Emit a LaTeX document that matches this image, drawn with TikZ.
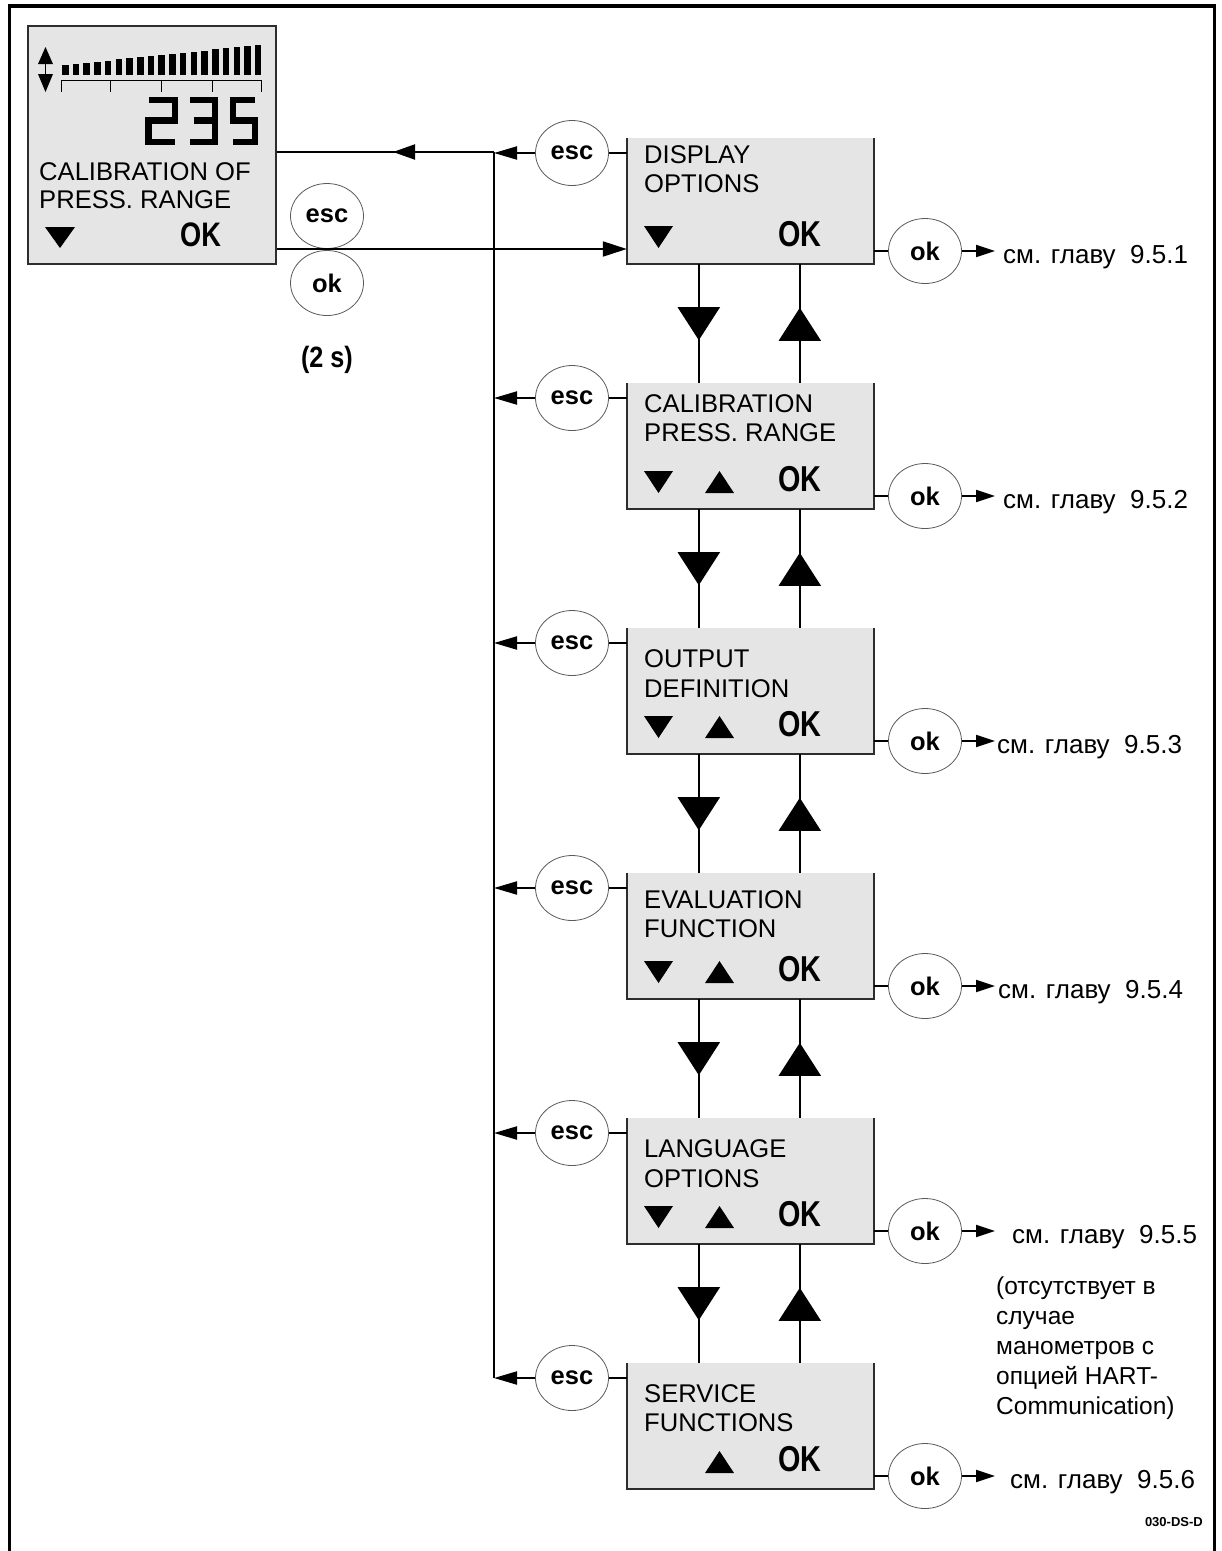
\documentclass[tikz,border=0pt]{standalone}
\usepackage{fontspec}
\setmainfont{Liberation Sans}
\usetikzlibrary{arrows.meta,shapes.geometric,decorations.markings,calc}
\definecolor{boxgray}{RGB}{229,229,229}
\definecolor{boxline}{RGB}{45,45,45}
\definecolor{keyline}{RGB}{90,90,90}
\newcommand\fKey{\fontsize{25.5}{30}\selectfont\bfseries}
\newcommand\fBox{\fontsize{25.6}{30}\selectfont}
\newcommand\fOK{\fontsize{36}{40}\selectfont\bfseries}
\newcommand\fRef{\fontsize{26}{31}\selectfont}
\newcommand\fNote{\fontsize{24.5}{30}\selectfont}
\begin{document}
\begin{tikzpicture}[x=1pt,y=-1pt,
  lcd/.style={rectangle, fill=boxgray, inner sep=0pt, minimum width=247pt, minimum height=126pt},
  keybtn/.style={ellipse, draw=keyline, line width=0.8pt, fill=white, minimum width=73pt, minimum height=65pt, inner sep=0pt, font=\fKey},
  wire/.style={line width=2pt},
  lcdborder/.style={draw=boxline, line width=2pt},
  escarrow/.style={wire, -{Triangle[length=23pt,width=13pt]}},
  okarrow/.style={wire, -{Triangle[length=19pt,width=12pt]}},
  inarrow/.style={wire, -{Triangle[length=24pt,width=15pt]}},
  updown/.style={wire, postaction={decorate}, decoration={markings, mark=at position #1 with {\arrow{Triangle[length=33pt,width=42pt]}}}},
  backarrow/.style={wire, postaction={decorate}, decoration={markings, mark=at position 101pt with {\arrow{Triangle[length=22pt,width=15pt]}}}},
  lbl/.style={anchor=base west, inner sep=0pt, font=\fBox},
  oklbl/.style={anchor=base west, inner sep=0pt, font=\fOK},
  seg/.style={line width=6.5pt, line join=miter, line cap=butt},
]
\useasboundingbox (0,0) rectangle (1222,1551);
% outer frame
\draw[line width=3.5pt, line join=miter] (9.5,1551) -- (9.5,6) -- (1214.5,6) -- (1214.5,1551);

% display
\node[rectangle, fill=boxgray, draw=boxline, line width=2pt, inner sep=0pt, minimum width=248pt, minimum height=238pt] (disp) at (152,145) {};
\foreach \i in {0,...,18} {
  \pgfmathsetmacro\bx{62+\i*10.72}
  \pgfmathsetmacro\bt{65-20*\i/18}
  \fill (\bx,75) rectangle (\bx+6.5,\bt);
}
\draw[line width=1pt] (61,80) -- (262,80);
\foreach \sx in {61,110,161,212,261} \draw[line width=1pt] (\sx,80) -- (\sx,92);
\fill (38,64) -- (53,64) -- (45.5,47) -- cycle;
\fill (38,74) -- (53,74) -- (45.5,92) -- cycle;
\draw[line width=1.5pt] (45.5,62) -- (45.5,76);
\draw[seg] (148.5,100) -- (175,100) -- (175,120.5) -- (148.5,120.5) -- (148.5,142) -- (175,142);
\draw[seg] (190,100) -- (215,100) -- (215,142) -- (190,142);
\draw[seg] (194,120.5) -- (215,120.5);
\draw[seg] (255,100) -- (233,100) -- (233,120.5) -- (255,120.5) -- (255,142) -- (233,142);
\node[lbl] (dl1) at (39,180) {CALIBRATION OF};
\node[lbl] (dl2) at (39,208) {PRESS. RANGE};
\fill (45,227) -- (75,227) -- (60,248) -- cycle;
\node[oklbl, font=\fontsize{34}{40}\selectfont\bfseries] (dok) at (180,246) {\scalebox{0.8}[1]{OK}};

\node[keybtn] (E0) at (327,216) {esc};
\node[keybtn] (O0) at (327,283) {ok};
\node[font=\fontsize{28}{32}\selectfont\bfseries] (twosec) at (327,360) {\scalebox{0.9}[1.05]{(2 s)}};

% menu boxes
\foreach \k/\la/\lb/\oa/\ob/\tX in {1/DISPLAY/OPTIONS/25/54/1003, 2/CALIBRATION/PRESS. RANGE/29/58/1003, 3/OUTPUT/DEFINITION/39/69/997, 4/EVALUATION/FUNCTION/35/64/998, 5/LANGUAGE/OPTIONS/39/69/1012, 6/SERVICE/FUNCTIONS/39/68/1010} {
  \pgfmathsetmacro\T{138+245*(\k-1)}
  \node[lcd] (m\k) at (750.5,\T+63) {};
  \draw[lcdborder] (m\k.north west) -- (m\k.south west) -- (m\k.south east) -- (m\k.north east);
  \node[lbl] (la\k) at (644,\T+\oa) {\la};
  \node[lbl] (lb\k) at (644,\T+\ob) {\lb};
  \ifnum\k<6 \fill (644,\T+88) -- (673,\T+88) -- (658.5,\T+110) -- cycle; \fi
  \ifnum\k>1 \fill (705,\T+110) -- (734,\T+110) -- (719.5,\T+88) -- cycle; \fi
  \node[oklbl] (ok\k) at (778,\T+108) {\scalebox{0.8}[1]{OK}};
  \node[keybtn] (e\k) at (572,\T+15) {esc};
  \node[keybtn] (o\k) at (925,\T+113) {ok};
  \coordinate (a\k) at (995,\T+113);
  \node[anchor=base west, inner sep=0pt, font=\fRef] (t\k) at (\tX,\T+125) {см. главу\ \ 9.5.\k};
}

% bus
\coordinate (busTop) at (494,152);
\coordinate (busBot) at (494,1378);
\draw[line width=2.6pt] (busTop) -- (busBot);
\draw[backarrow] (busTop) -- (busTop -| disp.east);
\coordinate (inY) at (0,249);
\draw[inarrow] (disp.east |- inY) -- (m1.west |- inY);

\foreach \k in {1,...,6} {
  \draw[escarrow] (e\k.west) -- (e\k.west -| busTop);
  \draw[wire] (e\k.east) -- (e\k.east -| m\k.west);
  \draw[wire] (o\k.west -| m\k.east) -- (o\k.west);
  \draw[okarrow] (o\k.east) -- (a\k);
}
\foreach \k in {1,...,5} {
  \pgfmathtruncatemacro\j{\k+1}
  \draw[updown=76pt] ($(m\k.south west)+(72,0)$) -- ($(m\j.north west)+(72,0)$);
  \draw[updown=75pt] ($(m\j.north west)+(173,0)$) -- ($(m\k.south west)+(173,0)$);
}

\node[anchor=north west, inner sep=0pt, align=left, font=\fNote] (note) at (996,1277) {(отсутствует в\\случае\\манометров с\\опцией HART-\\Communication)};
\node[anchor=east, inner sep=0pt, font=\fontsize{13}{15}\selectfont\bfseries] (code) at (1203,1522) {030-DS-D};
\end{tikzpicture}
\end{document}
